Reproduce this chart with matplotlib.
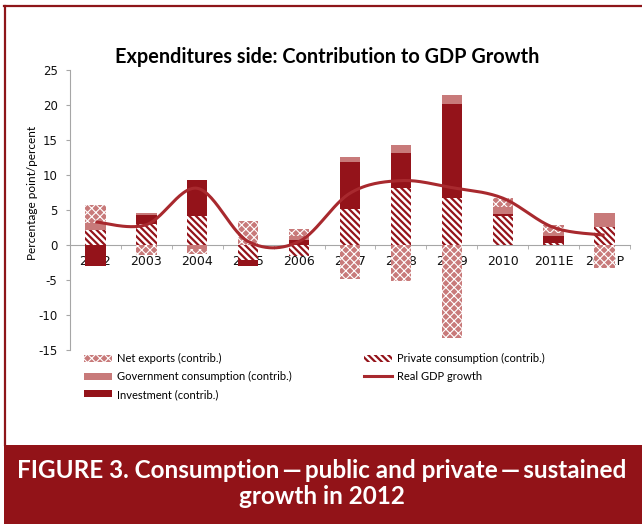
import matplotlib
matplotlib.use("Agg")
import matplotlib.pyplot as plt
import numpy as np
from matplotlib.patches import Rectangle, Patch
from matplotlib.lines import Line2D

plt.rcParams["axes.unicode_minus"] = False

years = ["2002", "2003", "2004", "2005", "2006", "2007", "2008", "2009", "2010", "2011E", "2012P"]
private = [2.2, 3.0, 4.2, -2.1, -1.5, 5.2, 8.2, 6.7, 4.1, 0.3, 2.6]
investment = [-3.0, 1.3, 5.1, -0.9, 0.7, 6.6, 5.0, 13.4, 0.4, 0.95, 0.0]
government = [0.9, 0.3, -0.5, 0.0, 0.55, 0.75, 1.1, 1.35, 0.95, 0.5, 2.0]
net_exports = [2.65, -1.4, -0.8, 3.4, 1.0, -4.9, -5.2, -13.3, 1.2, 1.05, -3.3]
gdp = [3.3, 2.9, 8.1, 0.5, 0.5, 7.4, 9.2, 8.2, 6.7, 2.5, 1.4]

DARK = "#94131a"
LIGHT = "#c87a7a"
LINE = "#a8292e"
PINK = "#c87a7a"
FRAME = "#8e1519"


def smooth(xs, ys, steps=30):
    # Bezier smoothing the way spreadsheet charts do it (control points at 1/6 of neighbour span)
    p = np.column_stack([xs, ys]).astype(float)
    n = len(p)
    out = []
    for i in range(n - 1):
        p0 = p[max(i - 1, 0)]
        p1, p2 = p[i], p[i + 1]
        p3 = p[min(i + 2, n - 1)]
        c1 = p1 + (p2 - p0) / 6
        c2 = p2 - (p3 - p1) / 6
        t = np.linspace(0, 1, steps)[:, None]
        seg = (1 - t) ** 3 * p1 + 3 * (1 - t) ** 2 * t * c1 + 3 * (1 - t) * t ** 2 * c2 + t ** 3 * p2
        out.append(seg if i == 0 else seg[1:])
    seg = np.vstack(out)
    return seg[:, 0], seg[:, 1]


def hatch_width(artist, lw):
    # set the hatch line width on the artist and also at draw time
    if hasattr(artist, "set_hatch_linewidth"):
        artist.set_hatch_linewidth(lw)
    elif hasattr(artist, "_hatch_linewidth"):
        artist._hatch_linewidth = lw
    orig = artist.draw

    def draw(renderer):
        with plt.rc_context({"hatch.linewidth": lw}):
            orig(renderer)
    artist.draw = draw


fig = plt.figure(figsize=(6.42, 5.24), dpi=100)
ax = fig.add_axes([70 / 642, 1 - 350 / 524, 560 / 642, 280 / 524])

x = np.arange(len(years))
w = 0.4
STRIPES = "\\" * 5
DOTS = "xxxx"
STRIPE_LW = 1.6
DOT_LW = 0.8
styles = [
    (private, dict(facecolor="white", edgecolor=DARK, hatch=STRIPES), STRIPE_LW),
    (investment, dict(facecolor=DARK, edgecolor=DARK), None),
    (government, dict(facecolor=LIGHT, edgecolor=LIGHT), None),
    (net_exports, dict(facecolor=PINK, edgecolor="white", hatch=DOTS), DOT_LW),
]
pos_base = np.zeros(len(x))
neg_base = np.zeros(len(x))
for vals, kw, hlw in styles:
    v = np.array(vals)
    bottom = np.where(v >= 0, pos_base, neg_base)
    with plt.rc_context({"hatch.linewidth": hlw or 1.0}):
        bars = ax.bar(x, v, w, bottom=bottom, linewidth=0, zorder=2, **kw)
    if hlw is not None:
        for b in bars:
            hatch_width(b, hlw)
    pos_base += np.where(v >= 0, v, 0)
    neg_base += np.where(v < 0, v, 0)

sx, sy = smooth(x, gdp)
ax.plot(sx, sy, color=LINE, lw=2.2, zorder=3, solid_capstyle="butt")

ax.set_xlim(-0.5, len(years) - 0.5)
ax.set_ylim(-15, 25)
ax.set_yticks(range(-15, 30, 5))
ax.set_xticks(x)
ax.set_xticklabels(years)
ax.set_xticks(np.arange(-0.5, len(years)), minor=True)

for s in ["top", "right"]:
    ax.spines[s].set_visible(False)
ax.spines["bottom"].set_position(("data", 0))
ax.spines["bottom"].set_color("#a6a6a6")
ax.spines["left"].set_color("#a6a6a6")
ax.spines["bottom"].set_zorder(1)
ax.tick_params(axis="x", which="major", length=0, pad=7, labelsize=9, labelcolor="#111111")
ax.tick_params(axis="x", which="minor", length=3, color="#a6a6a6", direction="out")
ax.tick_params(axis="y", length=3, color="#a6a6a6", labelsize=8.5, labelcolor="#111111", pad=6)

fig.text(33 / 642, 1 - 193 / 524, "Percentage point/percent", rotation=90,
         ha="center", va="center", fontsize=8.5, family="Lato")
fig.text(327 / 642, 1 - 57 / 524, "Expenditures side: Contribution to GDP Growth",
         ha="center", va="center", fontsize=14.3, weight="bold", family="Lato")

with plt.rc_context({"hatch.linewidth": DOT_LW}):
    h_net = Patch(facecolor=PINK, edgecolor="white", hatch=DOTS, linewidth=0)
with plt.rc_context({"hatch.linewidth": STRIPE_LW}):
    h_pri = Patch(facecolor="white", edgecolor=DARK, hatch=STRIPES, linewidth=0)
h_gov = Patch(facecolor=LIGHT, linewidth=0)
h_inv = Patch(facecolor=DARK, linewidth=0)
h_gdp = Line2D([], [], color=LINE, lw=2.2)

leg_kw = dict(frameon=False, prop={"family": "Lato", "size": 8}, handlelength=2.5,
              handleheight=0.6, handletextpad=0.5, labelspacing=0.62, borderaxespad=0,
              borderpad=0)
leg1 = fig.legend([h_net, h_gov, h_inv],
                  ["Net exports (contrib.)", "Government consumption (contrib.)", "Investment (contrib.)"],
                  loc="upper left", bbox_to_anchor=(84 / 642, 1 - 353 / 524), **leg_kw)
leg2 = fig.legend([h_pri, h_gdp], ["Private consumption (contrib.)", "Real GDP growth"],
                  loc="upper left", bbox_to_anchor=(364 / 642, 1 - 353 / 524), **leg_kw)
for leg, lws in ((leg1, [DOT_LW, None, None]), (leg2, [STRIPE_LW, None])):
    for h, lw in zip(leg.legend_handles, lws):
        if lw is not None:
            hatch_width(h, lw)

# page frame and caption band
fig.add_artist(Line2D([4 / 642, 1], [1 - 6 / 524, 1 - 6 / 524], color=FRAME, lw=1.6))
fig.add_artist(Line2D([5 / 642, 5 / 642], [1 - 6 / 524, 79 / 524], color=FRAME, lw=1.6))
fig.add_artist(Rectangle((3.5 / 642, 0), 1, 79 / 524, transform=fig.transFigure,
                         facecolor="#921318", edgecolor="none"))
fig.text(322 / 642, 1 - 470 / 524, "FIGURE 3. Consumption\u2009\u2014\u2009public and private\u2009\u2014\u2009sustained",
         ha="center", va="center", color="white", fontsize=17.5, weight="bold", family="Lato")
fig.text(322 / 642, 1 - 497 / 524, "growth in 2012",
         ha="center", va="center", color="white", fontsize=17.5, weight="bold", family="Lato")

fig.savefig("out.png", dpi=100)
